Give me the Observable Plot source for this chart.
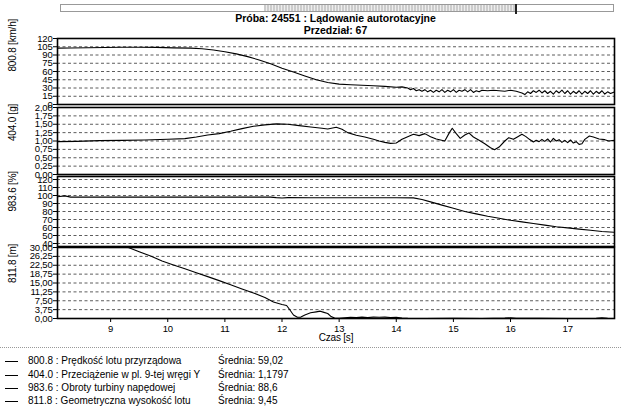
<!DOCTYPE html>
<html><head><meta charset="utf-8">
<script src="https://cdn.jsdelivr.net/npm/d3@7"></script>
<script src="https://cdn.jsdelivr.net/npm/@observablehq/plot@0.6"></script>
<style>
body{margin:0;background:#fff;font-family:"Liberation Sans",Arial,sans-serif;color:#000;}
#root{position:relative;width:621px;height:410px;overflow:hidden;background:#fff;}
.panel{position:absolute;left:0;}
.panel svg{overflow:visible;background:transparent !important;}
.title{position:absolute;left:57px;width:557px;text-align:center;font-weight:bold;font-size:10.5px;}
.bar{position:absolute;left:60px;top:4px;width:554px;height:8px;border:1px solid #999;box-sizing:border-box;}
.barfill{position:absolute;left:264px;top:5px;width:251px;height:6px;background:repeating-linear-gradient(90deg,#ccc 0 2px,#eee 2px 3px);}
.barmark{position:absolute;left:515px;top:4px;width:1.5px;height:10px;background:#222;}
.sep{position:absolute;left:0;top:347px;width:621px;border-top:1px dotted #999;}
.leg{position:absolute;left:0;font-size:10px;height:12px;line-height:12px;white-space:nowrap;}
.leg .ln{position:absolute;left:5px;top:6px;width:13px;border-top:1px solid #000;}
.leg .nm{position:absolute;left:28px;}
.leg .av{position:absolute;left:218px;}
</style></head>
<body><div id="root">
<div class="bar"></div><div class="barfill"></div><div class="barmark"></div>
<div class="title" style="top:12px">Próba: 24551 : Lądowanie autorotacyjne</div>
<div class="title" style="top:24px">Przedział: 67</div>
<div class="sep"></div>
<div id="legend"></div>
</div>
<script>
const timeTicks = [9, 10, 11, 12, 13, 14, 15, 16, 17];
const timeDomain = [8.07, 17.82];

const panelLabels = ["800.8 [km/h]", "404.0 [g]", "983.6 [%]", "811.8 [m]"];
const legendNames = [
  "800.8 : Prędkość lotu przyrządowa",
  "404.0 : Przeciążenie w pl. 9-tej wręgi Y",
  "983.6 : Obroty turbiny napędowej",
  "811.8 : Geometryczna wysokość lotu"
];
const legendMeans = ["Średnia: 59,02", "Średnia: 1,1797", "Średnia: 88,6", "Średnia: 9,45"];

const speedTicks = [0, 15, 30, 45, 60, 75, 90, 105, 120];
const gTicks = [0, 0.25, 0.5, 0.75, 1, 1.25, 1.5, 1.75, 2];
const turbTicks = [40, 50, 60, 70, 80, 90, 100, 110, 120];
const altTicks = [0, 3.75, 7.5, 11.25, 15, 18.75, 22.5, 26.25, 30];

const speedT = [8.07,8.3,8.6,8.9,9.2,9.5,9.8,10.1,10.4,10.6,10.8,11.0,11.2,11.4,11.6,11.8,12.0,12.2,12.4,12.6,12.8,13.0,13.2,13.4,13.6,13.8,14.0,14.1,14.2,14.25,14.3,14.35,14.4,14.45,14.5,14.55,14.6,14.65,14.7,14.75,14.8,14.85,14.9,14.95,15.0,15.05,15.1,15.15,15.2,15.25,15.3,15.35,15.4,15.45,15.5,15.6,15.7,15.8,15.9,16.0,16.1,16.2,16.25,16.3,16.35,16.4,16.45,16.5,16.55,16.6,16.65,16.7,16.75,16.8,16.85,16.9,16.95,17.0,17.05,17.1,17.15,17.2,17.25,17.3,17.35,17.4,17.45,17.5,17.55,17.6,17.65,17.7,17.75,17.82];
const speedV = [102.5,102.8,103.2,103.5,104,104.2,103.8,103,102.5,101.5,99,96,92,87,81,74,66,59,52,45,40,37,36,35,34,33,31.5,32,30,27,29,25,27,24,27,23,26,22,26,23,27,22,26,23,27,22,26,24,27,23,27,22,25,23,26,25,26,25,24,26,24,21,18,23,20,25,22,26,21,25,20,24,19,25,21,26,20,25,19,24,20,25,19,24,20,25,19,24,20,25,19,23,20,23];

const gT = [8.07,8.4,8.8,9.2,9.6,10.0,10.3,10.5,10.7,10.9,11.1,11.3,11.5,11.7,11.9,12.1,12.3,12.5,12.7,12.8,12.95,13.05,13.15,13.3,13.45,13.6,13.7,13.8,13.9,14.0,14.1,14.2,14.3,14.4,14.5,14.6,14.7,14.85,14.93,14.98,15.05,15.12,15.2,15.27,15.35,15.45,15.55,15.65,15.72,15.8,15.9,15.97,16.05,16.12,16.2,16.27,16.33,16.4,16.45,16.5,16.55,16.6,16.65,16.7,16.75,16.8,16.85,16.9,16.95,17.0,17.05,17.1,17.15,17.2,17.25,17.3,17.38,17.45,17.55,17.65,17.72,17.82];
const gV = [0.98,0.99,1.01,1.02,1.03,1.05,1.07,1.12,1.18,1.22,1.29,1.37,1.44,1.48,1.51,1.5,1.46,1.42,1.38,1.36,1.41,1.35,1.25,1.17,1.12,1.05,1.0,0.96,0.93,0.94,1.05,1.13,1.2,1.16,1.22,1.13,1.06,1.0,1.25,1.38,1.22,1.08,1.18,1.24,1.12,1.02,0.92,0.8,0.74,0.82,1.0,1.1,1.05,1.12,1.2,1.13,1.05,0.97,1.02,0.98,1.05,0.99,1.06,0.97,1.08,1.0,1.04,0.96,1.02,0.95,1.03,0.94,0.98,0.9,0.92,1.05,1.15,1.12,1.06,1.04,1.0,1.02];

const turbT = [8.07,8.2,8.3,9,10,11,11.8,11.9,12.0,12.1,12.5,13,13.5,14.0,14.3,14.45,14.6,14.8,15.0,15.2,15.4,15.6,15.8,16.0,16.2,16.4,16.6,16.8,17.0,17.2,17.4,17.6,17.82];
const turbV = [98.5,99.5,98,98,98,98,98,97.3,96.8,97.4,97.2,97.2,97.2,97.1,97,95,92,88,84,80,77,74,71.5,69,67,65,63,61,59.5,58,56.5,55,54];

const altT = [9.2,9.31,9.5,9.7,9.9,10.1,10.3,10.5,10.7,10.9,11.1,11.3,11.5,11.7,11.85,12.0,12.08,12.13,12.2,12.27,12.33,12.4,12.5,12.6,12.67,12.72,12.8,12.86,12.92,13.0,13.1,13.2,13.3,13.4,13.5,13.6,13.7,13.8,13.9,14.0,14.1,14.2,14.5,15.0,15.5,15.9,16.0,16.1,16.5,17.0,17.5,17.6,17.7,17.82];
const altV = [31,30,28.2,26.4,24.3,22.6,21,19.3,17.7,16,14.3,12.5,10.8,8.9,7.0,5.9,5.5,3.9,1.5,0.5,0.6,1.5,2.4,2.8,3.1,2.7,2.1,0.8,0.2,0.1,0.3,0.5,0.4,0.6,0.4,0.6,0.5,0.6,0.4,0.5,0.2,0.05,0.02,0.05,0.02,0.15,0.3,0.1,0.05,0.02,0.1,0.25,0.05,0.0];

const comma2 = d => d3.format(".2f")(d).replace(".", ",");

const panels = [
  {top: 38, height: 66, domain: [0, 120], ticks: speedTicks, fmt: d => String(d), t: speedT, v: speedV},
  {top: 107, height: 67, domain: [0, 2], ticks: gTicks, fmt: comma2, t: gT, v: gV},
  {top: 176, height: 70, domain: [36.25, 123.75], ticks: turbTicks, fmt: d => String(d), t: turbT, v: turbV},
  {top: 247, height: 71, domain: [0, 30], ticks: altTicks, fmt: comma2, t: altT, v: altV, xAxis: true}
];

const root = document.getElementById("root");
panels.forEach((p, i) => {
  const data = p.t.map((x, k) => ({t: x, v: p.v[k]}));
  const mb = p.xAxis ? 32 : 0;
  const marks = [
    Plot.ruleY(p.ticks, {stroke: "#333", strokeWidth: 0.8, strokeDasharray: "3,2.5"}),
    Plot.line(data, {x: "t", y: "v", stroke: "#000", strokeWidth: 1.1, clip: true}),
    Plot.frame({stroke: "#000", strokeWidth: 1.6}),
    Plot.text([panelLabels[i]], {frameAnchor: "left", dx: -45, rotate: -90, fontSize: 10})
  ];
  if (p.xAxis) marks.push(Plot.text(["Czas [s]"], {frameAnchor: "bottom", dy: 22, fontSize: 10}));
  const svg = Plot.plot({
    width: 621, height: p.height + mb,
    marginLeft: 57, marginRight: 7, marginTop: 0, marginBottom: mb,
    style: {fontFamily: "Liberation Sans, Arial, sans-serif", fontSize: "9.5px", letterSpacing: "-0.2px", background: "transparent", color: "#000", overflow: "visible"},
    x: {domain: timeDomain, axis: p.xAxis ? "bottom" : null, ticks: timeTicks, tickFormat: d => String(d), tickSize: 4, tickPadding: 3, label: null},
    y: {domain: p.domain, ticks: p.ticks, tickFormat: p.fmt, tickSize: 4, tickPadding: 1, label: null},
    marks
  });
  const div = document.createElement("div");
  div.className = "panel";
  div.style.top = p.top + "px";
  div.appendChild(svg);
  root.appendChild(div);
});

const legend = document.getElementById("legend");
const legendTops = [355, 369, 382, 395];
legendNames.forEach((n, i) => {
  const row = document.createElement("div");
  row.className = "leg";
  row.style.top = legendTops[i] + "px";
  row.innerHTML = `<span class="ln"></span><span class="nm">${n}</span><span class="av">${legendMeans[i]}</span>`;
  legend.appendChild(row);
});
</script>
</body></html>
